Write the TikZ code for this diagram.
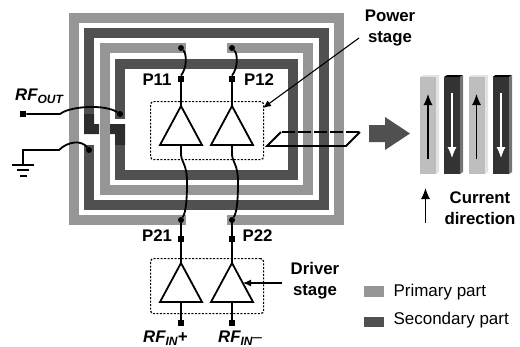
\documentclass[tikz,border=0pt]{standalone}
\usepackage{fontspec}
\setmainfont{Liberation Sans}
\usetikzlibrary{arrows.meta,shapes.geometric}
\definecolor{primarygray}{HTML}{969696}
\definecolor{secondarygray}{HTML}{505050}
\definecolor{crossgray}{HTML}{2D2D2D}
\definecolor{barlight}{HTML}{BEBEBE}
\definecolor{barlightside}{HTML}{E2E2E2}
\definecolor{bardark}{HTML}{333333}
\definecolor{bardarkside}{HTML}{747474}
\newcommand{\rfname}[2]{\textbf{\textit{RF\raisebox{-3pt}{\fontsize{12}{12}\selectfont #1}#2}}}
\begin{document}
\begin{tikzpicture}[
	x=1pt,
	y=-1pt,
	primary/.style={
		draw=primarygray,
		line width=10pt,
		line join=miter
	},
	secondary/.style={
		draw=secondarygray,
		line width=10pt,
		line join=miter
	},
	pad/.style={
		rectangle,
		fill=black,
		inner sep=0pt,
		minimum size=6.5pt
	},
	bond/.style={
		circle,
		fill=black,
		inner sep=0pt,
		minimum size=6pt
	},
	amp/.style={
		isosceles triangle,
		isosceles triangle stretches,
		shape border rotate=90,
		draw=black,
		line width=1.8pt,
		fill=white,
		inner sep=0pt,
		outer sep=0pt,
		minimum width=42pt,
		minimum height=39pt,
		anchor=apex
	},
	stagebox/.style={
		rectangle,
		draw=black,
		line width=1.2pt,
		dash pattern=on 2pt off 1.5pt,
		rounded corners=3pt,
		anchor=north west,
		minimum width=113pt
	},
	wire/.style={
		draw=black,
		line width=1.8pt
	},
	label/.style={
		font=\fontsize{16.8}{21}\selectfont\bfseries,
		align=center
	},
	legend/.style={
		font=\fontsize{17}{20}\selectfont,
		anchor=west
	},
	swatch/.style={
		rectangle,
		inner sep=0pt,
		minimum width=20.5pt,
		minimum height=10.5pt
	},
]

\useasboundingbox (0,0) rectangle (520,346);

\draw[primary] (186,220) -- (74,220) -- (74,18) -- (339,18) -- (339,220) -- (227,220);
\draw[primary] (186,48) -- (105,48) -- (105,190) -- (308,190) -- (308,48) -- (227,48);

\draw[secondary] (89,114) -- (89,33) -- (324,33) -- (324,205) -- (89,205) -- (89,145);
\draw[secondary] (120,119) -- (120,64) -- (293,64) -- (293,175) -- (120,175) -- (120,134);

\fill[crossgray] (84,114) -- (94,114) -- (94,124) -- (99,124) -- (99,134) -- (84,134) -- cycle;
\fill[crossgray] (110,124) -- (125,124) -- (125,145) -- (115,145) -- (115,134) -- (110,134) -- cycle;

\node[stagebox, minimum height=58pt] (powerbox) at (150,101) {};
\node[stagebox, minimum height=55pt] (driverbox) at (150,258) {};

\node[amp] (amp11) at (181,106) {};
\node[amp] (amp12) at (232,106) {};
\node[amp] (amp21) at (181,263) {};
\node[amp] (amp22) at (232,263) {};

\node[pad] (p11) at (181,79) {};
\node[pad] (p12) at (232,79) {};
\node[pad] (p21) at (181,239) {};
\node[pad] (p22) at (232,239) {};
\node[pad] (inp) at (181,323) {};
\node[pad] (inn) at (232,323) {};
\node[pad] (rfout) at (23,114) {};

\node[bond] (top11) at (181,48) {};
\node[bond] (top12) at (232,48) {};
\node[bond] (bot11) at (181,220) {};
\node[bond] (bot12) at (232,220) {};
\node[bond] (outbond) at (120,114) {};
\node[bond] (gndbond) at (89,150) {};

\draw[wire] (p11) -- (amp11.apex);
\draw[wire] (p12) -- (amp12.apex);
\draw[wire] (p11.north) .. controls (187,68) and (187,54) .. (top11);
\draw[wire] (p12.north) .. controls (238,68) and (238,54) .. (top12);

\draw[wire] (amp11.south) -- (181,155) .. controls (182,163) and (187,165) .. (187,182) .. controls (187,200) and (186,212) .. (bot11);
\draw[wire] (amp12.south) -- (232,155) .. controls (233,163) and (238,165) .. (238,182) .. controls (238,200) and (237,212) .. (bot12);

\draw[wire] (bot11) -- (p21);
\draw[wire] (bot12) -- (p22);
\draw[wire] (p21) -- (amp21.apex);
\draw[wire] (p22) -- (amp22.apex);
\draw[wire] (amp21.south) -- (inp);
\draw[wire] (amp22.south) -- (inn);

\coordinate (gndtop) at (23,150);
\coordinate (gnd) at (23,164);

\draw[wire] (rfout) -- (60,114) .. controls (70,106) and (105,104) .. (outbond);
\draw[wire] (gnd) -- (gndtop) -- (59,150) .. controls (68,141) and (82,140) .. (gndbond);
\draw[line width=2pt] (12,164.5) -- (34,164.5);
\draw[line width=2pt] (17,170) -- (29,170);
\draw[line width=2pt] (20,175.5) -- (27,175.5);

\draw[wire] (281,132) -- (267,146) -- (346,146) -- (360,132);
\draw[wire, dash pattern=on 13pt off 3pt] (282,132) -- (360,132);

\node[label] (power) at (390,27.5) {Power\\stage};
\node[label] (driver) at (315,280.5) {Driver\\stage};
\node[label] (current) at (480,208.5) {Current\\direction};

\coordinate (powerfrom) at (359,38);
\coordinate (powerto) at (263,108);
\coordinate (driverfrom) at (281.5,283);
\coordinate (driverto) at (243,283);

\draw[line width=1.1pt, -{Latex[length=8pt,width=7pt]}] (powerfrom) -- (powerto);
\draw[line width=1.1pt, -{Latex[length=8pt,width=7pt]}] (driverfrom) -- (driverto);

\node[label] (l11) at (157,80) {P11};
\node[label] (l12) at (259,80) {P12};
\node[label] (l21) at (157,236) {P21};
\node[label] (l22) at (257.5,236) {P22};

\node[label, anchor=base west, inner sep=0pt] (lout) at (15,100) {\rfname{OUT}{}};
\node[label, anchor=base west, inner sep=0pt] (linp) at (143,342) {\rfname{IN}{+}};
\node[label, anchor=base west, inner sep=0pt] (linn) at (218,342) {\rfname{IN}{\mdseries\upshape –}};

\fill[secondarygray] (369,125) -- (385,125) -- (385,117) -- (410,133.5) -- (385,150) -- (385,142) -- (369,142) -- cycle;

\fill[barlightside] (420,77) -- (423,75) -- (439,75) -- (436,77) -- cycle;
\fill[barlightside] (436,77) -- (439,75) -- (439,172) -- (436,174) -- cycle;
\fill[barlight] (420,77) rectangle (436,174);
\fill[black] (444,77) -- (447,75) -- (463,75) -- (460,77) -- cycle;
\fill[bardarkside] (460,77) -- (463,75) -- (463,172) -- (460,174) -- cycle;
\fill[bardark] (444,77) rectangle (460,174);
\fill[barlightside] (468.5,77) -- (471.5,75) -- (488,75) -- (485,77) -- cycle;
\fill[barlightside] (485,77) -- (488,75) -- (488,172) -- (485,174) -- cycle;
\fill[barlight] (468.5,77) rectangle (485,174);
\fill[black] (492.5,77) -- (495.5,75) -- (512,75) -- (509,77) -- cycle;
\fill[bardarkside] (509,77) -- (512,75) -- (512,172) -- (509,174) -- cycle;
\fill[bardark] (492.5,77) rectangle (509,174);

\draw[line width=1.1pt, -{Latex[length=11pt,width=9pt]}] (428,159) -- (428,94);
\draw[line width=1.1pt, white, -{Latex[length=11pt,width=9pt]}] (452,93) -- (452,158);
\draw[line width=1.1pt, -{Latex[length=11pt,width=9pt]}] (476.5,159) -- (476.5,94);
\draw[line width=1.1pt, white, -{Latex[length=11pt,width=9pt]}] (501,93) -- (501,158);
\draw[line width=1.1pt, -{Latex[length=11pt,width=9pt]}] (425.5,223) -- (425.5,188);

\node[swatch, fill=primarygray] (swatch1) at (374,291.5) {};
\node[swatch, fill=secondarygray] (swatch2) at (374,322) {};
\node[legend] (legend1) at (390,292) {Primary part};
\node[legend] (legend2) at (390,320) {Secondary part};

\end{tikzpicture}
\end{document}
